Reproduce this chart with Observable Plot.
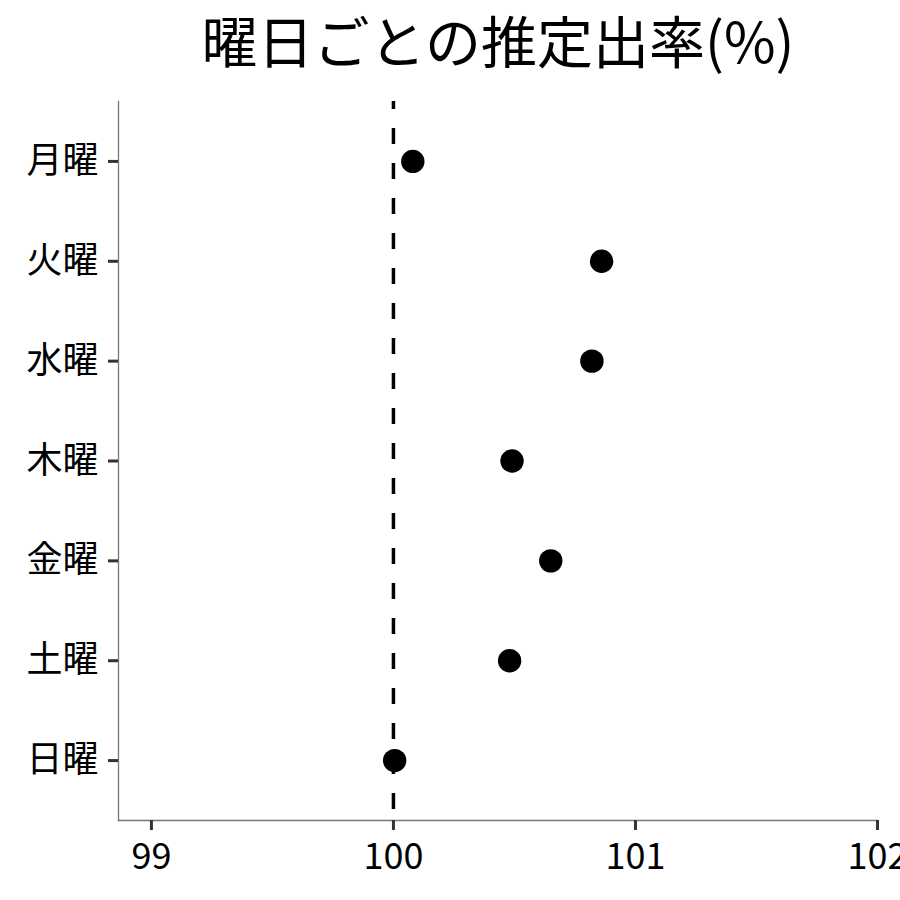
<!DOCTYPE html>
<html>
<head>
<meta charset="utf-8">
<script src="https://cdn.jsdelivr.net/npm/d3@7"></script>
<script src="https://cdn.jsdelivr.net/npm/@observablehq/plot@0.6"></script>
<style>
  html, body { margin: 0; padding: 0; background: white; overflow: hidden; }
  #chart svg { display: block; }
</style>
</head>
<body>
<div id="chart"></div>
<script>
const title = "曜日ごとの推定出率(%)";
const days = ["月曜", "火曜", "水曜", "木曜", "金曜", "土曜", "日曜"];
const rates = [100.08, 100.86, 100.82, 100.49, 100.65, 100.48, 100.005];
const xTicks = [99, 100, 101, 102];
const refValue = 100;
const xDomain = [98.864, 102];

const data = days.map((d, i) => ({day: d, rate: rates[i]}));
const font = "'Noto Sans CJK JP', 'Noto Sans', sans-serif";

const chart = Plot.plot({
  width: 900,
  height: 900,
  marginTop: 101,
  marginBottom: 80,
  marginLeft: 118,
  marginRight: 23,
  style: {fontFamily: font, background: "white", color: "black"},
  x: {domain: xDomain, ticks: xTicks},
  y: {type: "point", domain: days, padding: 0.6, round: false},
  marks: [
    Plot.text([title], {
      frameAnchor: "top", text: d => d, fontSize: 56, dy: -56,
      lineAnchor: "middle", fill: "black"
    }),
    Plot.frame({anchor: "bottom", stroke: "#777", strokeWidth: 1.3}),
    Plot.frame({anchor: "left", stroke: "#777", strokeWidth: 1.3}),
    Plot.axisX({ticks: xTicks, tickSize: 10, tickPadding: 13, stroke: "#333", strokeWidth: 3,
      fontSize: 36, fill: "black", label: null, tickFormat: d => String(d)}),
    Plot.axisY({tickSize: 10, tickPadding: 10, stroke: "#333", strokeWidth: 3,
      fontSize: 36, fill: "black", label: null}),
    Plot.ruleX([refValue], {stroke: "black", strokeWidth: 3.5, strokeDasharray: "16,19", strokeDashoffset: 8}),
    Plot.dot(data, {x: "rate", y: "day", r: 11.7, fill: "black", stroke: null})
  ]
});
document.getElementById("chart").appendChild(chart);
</script>
</body>
</html>
